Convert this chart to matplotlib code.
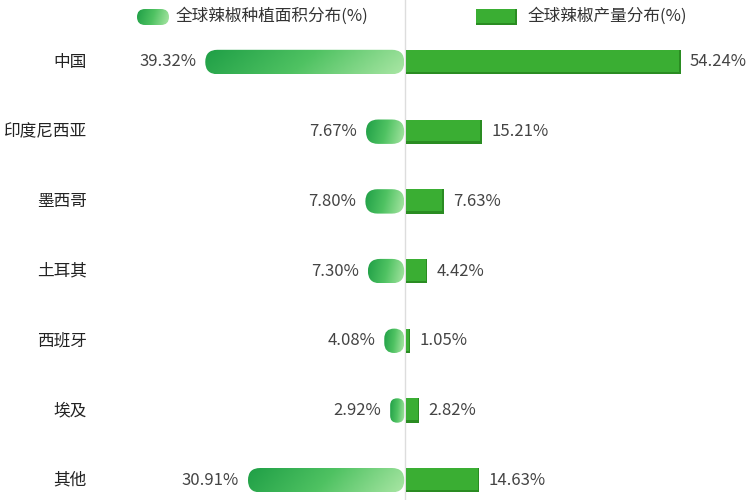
import numpy as np
import matplotlib
matplotlib.use('Agg')
import matplotlib.pyplot as plt
from matplotlib.patches import FancyBboxPatch, Rectangle
from matplotlib.colors import LinearSegmentedColormap

plt.rcParams['font.family'] = ['Noto Sans CJK SC', 'DejaVu Sans']

# data
categories = ['中国', '印度尼西亚', '墨西哥', '土耳其', '西班牙', '埃及', '其他']
area_share = [39.32, 7.67, 7.80, 7.30, 4.08, 2.92, 30.91]      # 种植面积
output_share = [54.24, 15.21, 7.63, 4.42, 1.05, 2.82, 14.63]   # 产量
legend_labels = ['全球辣椒种植面积分布(%)', '全球辣椒产量分布(%)']

# layout: pixels per percent and per row
PX_X = 5.08
PX_ROW = 69.7
CENTER_PX = 405
TOP_ROW_PX = 62
BAR_H = 0.35
ASPECT = PX_X / PX_ROW

grad = LinearSegmentedColormap.from_list('g', ['#1f9f46', '#4fc262', '#a9e6a4'])
solid = '#3aae33'
shadow = '#2a8c22'
text_col = '#333333'

fig = plt.figure(figsize=(7.5, 5), dpi=100)
ax = fig.add_axes([0, 0, 1, 1])


def pill(ax, x0, x1, y0, y1, aspect):
    w = x1 - x0
    h = y1 - y0
    r = min(h / aspect / 2, w / 2)
    p = FancyBboxPatch((x0, y0), w, h,
                       boxstyle='round,pad=0,rounding_size=%f' % r,
                       mutation_aspect=aspect, fc='none', ec='none')
    ax.add_patch(p)
    gx = np.linspace(0, 1, 256)
    gy = np.linspace(0, 1, 16)
    z = 0.88 * gx[None, :] + 0.12 * gy[:, None]
    im = ax.imshow(z, cmap=grad, extent=[x0, x1, y1, y0], aspect='auto',
                   interpolation='bilinear', vmin=0, vmax=1, zorder=3)
    im.set_clip_path(p)


def block(ax, x0, x1, y0, y1, sh_w, sh_h):
    ax.add_patch(Rectangle((x0, y0), x1 - x0, y1 - y0, fc=solid, ec='none', zorder=3))
    ax.add_patch(Rectangle((x0, y1 - sh_h), x1 - x0, sh_h, fc=shadow, ec='none', zorder=4))
    ax.add_patch(Rectangle((x1 - sh_w, y0), sh_w, y1 - y0, fc=shadow, ec='none', zorder=4))


for i, (cat, a, o) in enumerate(zip(categories, area_share, output_share)):
    y0, y1 = i - BAR_H / 2, i + BAR_H / 2
    pill(ax, -a, -0.15, y0, y1, ASPECT)
    block(ax, 0.15, o, y0, y1, 0.35, 0.035)
    ax.text(-a - 1.8, i, '%.2f%%' % a, ha='right', va='center',
            fontsize=12, color='#444444')
    ax.text(o + 1.8, i, '%.2f%%' % o, ha='left', va='center',
            fontsize=12, color='#444444')
    ax.text(87 / 750, i, cat, transform=ax.get_yaxis_transform(),
            ha='right', va='center', fontsize=12, color='#222222',
            fontweight='medium')

ax.axvline(0, color='#dddddd', lw=1, zorder=1)

ax.set_xlim(-CENTER_PX / PX_X, (750 - CENTER_PX) / PX_X)
ax.set_ylim((500 - TOP_ROW_PX) / PX_ROW, -TOP_ROW_PX / PX_ROW)
ax.axis('off')

# legend drawn on a pixel-space overlay
lg = fig.add_axes([0, 0, 1, 1], facecolor='none')
lg.set_xlim(0, 750)
lg.set_ylim(500, 0)
lg.axis('off')
pill(lg, 137, 169, 9, 25, 1.0)
block(lg, 476, 517, 9, 25, 2.0, 2.5)
lg.text(176, 16, legend_labels[0], ha='left', va='center', fontsize=12, color=text_col)
lg.text(528, 16, legend_labels[1], ha='left', va='center', fontsize=12, color=text_col)
lg.set_xlim(0, 750)
lg.set_ylim(500, 0)

fig.savefig('out.png', dpi=100)
